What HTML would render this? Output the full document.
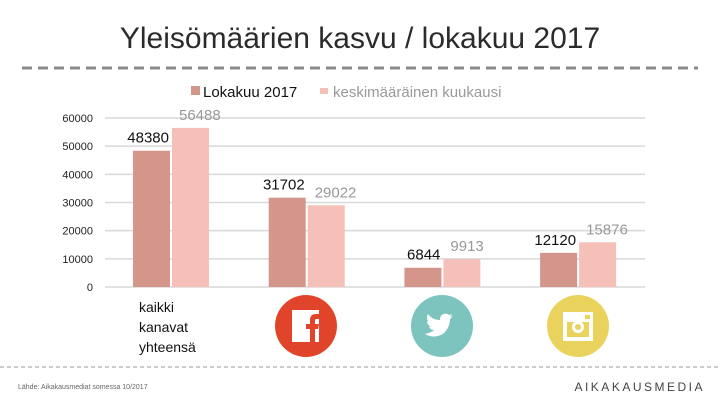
<!DOCTYPE html>
<html><head><meta charset="utf-8"><style>
body{margin:0;width:720px;height:405px;background:#fff;overflow:hidden;font-family:"Liberation Sans",sans-serif}
</style></head><body>
<svg width="720" height="405" id="svg" style="font-family:'Liberation Sans',sans-serif">
<text x="360" y="48" text-anchor="middle" font-size="30" fill="#2b2b2b">Yleisömäärien kasvu / lokakuu 2017</text>
<line x1="22" y1="68" x2="698" y2="68" stroke="#8a8a8a" stroke-width="3" stroke-dasharray="10,6"/>
<g>
<rect x="191" y="86" width="9" height="9" fill="#d4958a"/>
<text x="203" y="97" font-size="15" fill="#111">Lokakuu 2017</text>
<rect x="320" y="88" width="8" height="6" fill="#f5c0b8"/>
<text x="333" y="97" font-size="15" fill="#999">keskimääräinen kuukausi</text>
</g>
<g id="grid"></g><g id="bars"></g>
<g font-size="14" fill="#111">
<text x="139" y="312">kaikki</text><text x="139" y="332">kanavat</text><text x="139" y="352">yhteensä</text></g>
<g><circle cx="306" cy="326" r="31" fill="#e0452b"/><rect x="292" y="310" width="27" height="32" fill="#fff"/><path d="M310 342v-13h-4v-5h4v-4c0-4 2-6 6-6h3v5h-2c-2 0-2 1-2 2v3h4l-1 5h-3v13z" fill="#e0452b"/></g>
<g><circle cx="442" cy="326" r="31" fill="#7cc4bd"/><path d="M425 334c6 4 14 3 19-1 4-4 6-9 6-14l3-3-3 1 2-3-3 1c-3-3-9-1-9 4v1c-5 0-9-2-12-6-2 3-1 6 1 8l-2-1c0 3 2 5 4 6h-2c1 2 3 3 5 3-2 2-5 3-9 4z" fill="#fff"/></g>
<g><circle cx="578" cy="326" r="31" fill="#ead35c"/><rect x="563" y="312" width="30" height="29" fill="#fff"/><rect x="567" y="322" width="22" height="15" fill="#ead35c"/><circle cx="578" cy="327" r="6" fill="#fff"/><circle cx="578" cy="327" r="3" fill="#ead35c"/><rect x="585" y="315" width="5" height="4" fill="#ead35c"/></g>
<line x1="0" y1="367" x2="720" y2="367" stroke="#999" stroke-width="1" stroke-dasharray="4,3"/>
<text x="18" y="389" font-size="7" fill="#666">Lähde: Aikakausmediat somessa 10/2017</text>
<text x="705" y="391" text-anchor="end" font-size="12" fill="#444" letter-spacing="2.5">AIKAKAUSMEDIA</text>
</svg>
<script>
const categories=["kaikki","facebook","twitter","instagram"];
const lokakuu=[48380,31702,6844,12120];
const keskim=[56488,29022,9913,15876];
const ticks=[0,10000,20000,30000,40000,50000,60000];
const NS="http://www.w3.org/2000/svg";
const y=v=>287-v*(169/60000);
const xc=i=>171+i*135.7;
function mk(t,a,p){const e=document.createElementNS(NS,t);for(const k in a)e.setAttribute(k,a[k]);p.appendChild(e);return e;}
const g=document.getElementById('grid'),b=document.getElementById('bars');
ticks.forEach(t=>{
 const l=mk('line',{x1:105,x2:645,y1:y(t),y2:y(t),stroke:'#d9d9d9','stroke-width':1.5},g);
 
 
 const tx=mk('text',{x:93,y:y(t)+4,'text-anchor':'end','font-size':11,fill:'#222'},g);tx.textContent=t;
 
 
});
categories.forEach((c,i)=>{
 const r1=mk('rect',{x:xc(i)-38,y:y(lokakuu[i]),width:37,height:287-y(lokakuu[i]),fill:'#d4958a'},b);
 
 
 const r2=mk('rect',{x:xc(i)+1,y:y(keskim[i]),width:37,height:287-y(keskim[i]),fill:'#f5c0b8'},b);
 
 
 const t1=mk('text',{x:xc(i)-2,y:y(lokakuu[i])-8,'text-anchor':'end','font-size':15,fill:'#111'},b);t1.textContent=lokakuu[i];
 
 
 const t2=mk('text',{x:xc(i)+8,y:y(keskim[i])-8,'font-size':15,fill:'#999'},b);t2.textContent=keskim[i];
 
 
});
</script>
</body></html>
